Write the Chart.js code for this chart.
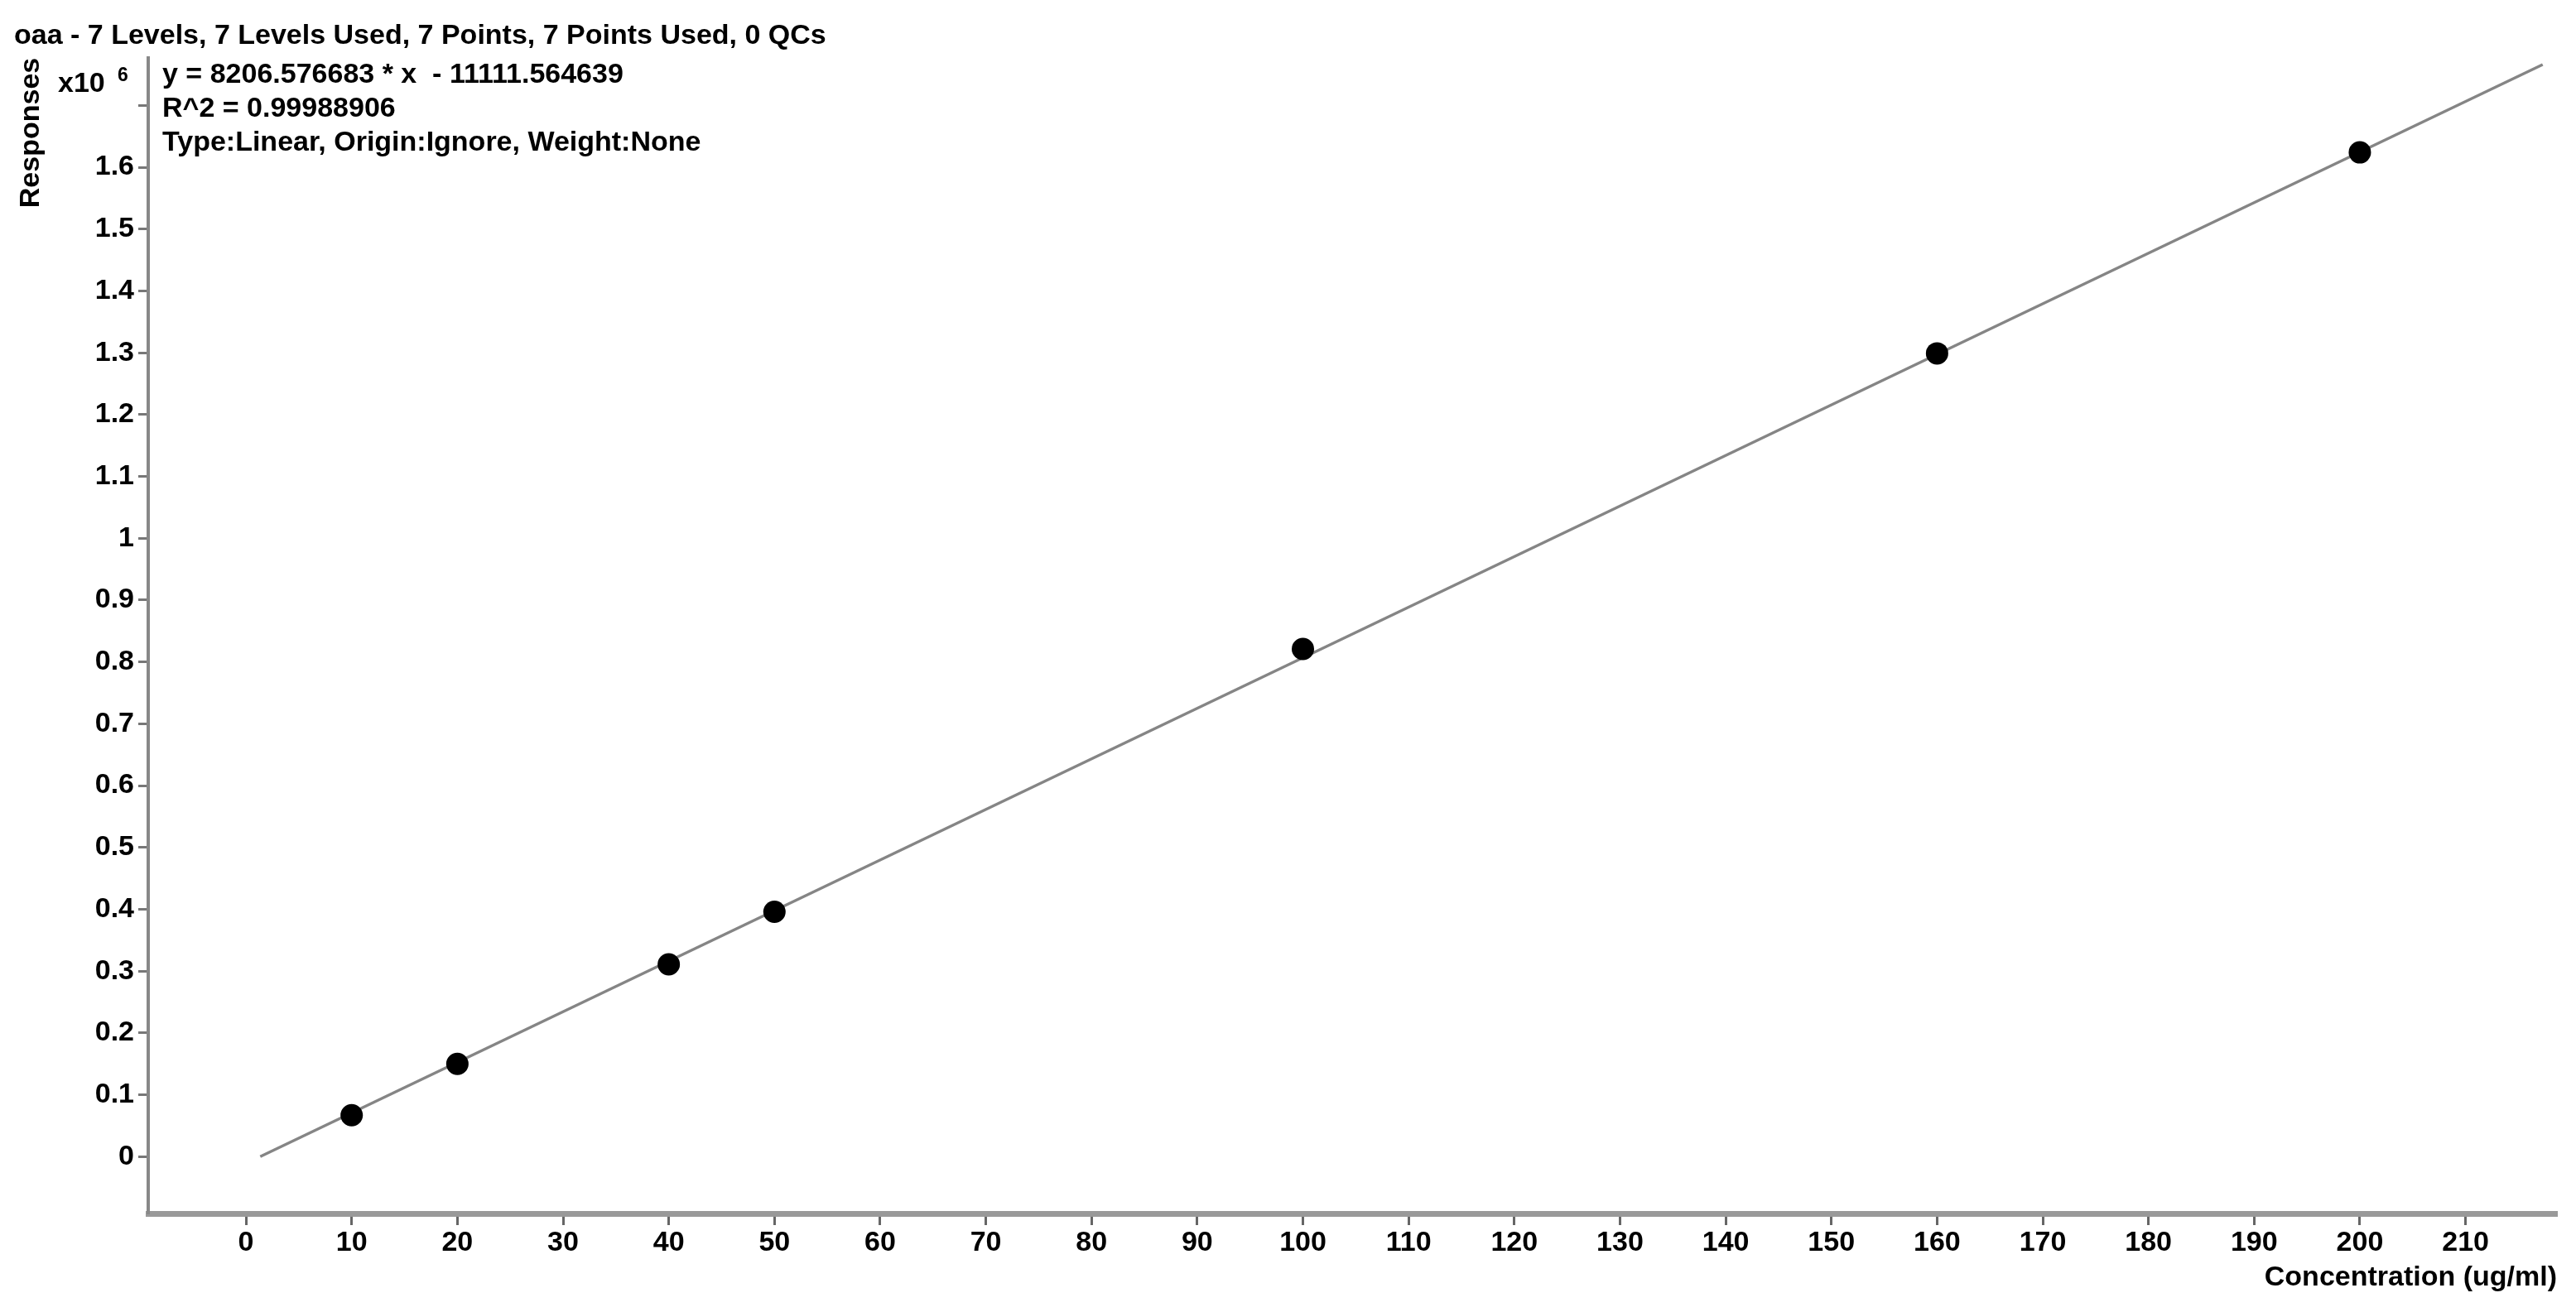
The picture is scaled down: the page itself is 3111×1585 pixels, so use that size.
<!DOCTYPE html>
<html lang="en">
<head>
<meta charset="UTF-8">
<title>oaa calibration curve</title>
<style>
  html, body { margin: 0; padding: 0; background: #fff; }
  #wrap { width: 3111px; height: 1585px; }
</style>
</head>
<body>
<div id="wrap"><canvas id="calChart"></canvas></div>

<script src="https://cdn.jsdelivr.net/npm/chart.js@4.4.1/dist/chart.umd.min.js"></script>
<script>
// calibration levels (ug/ml) and responses (x10^6)
const concentrations = [10, 20, 40, 50, 100, 160, 200];
const responses = [0.067, 0.150, 0.311, 0.396, 0.821, 1.299, 1.624];

// ends of the fitted line as drawn
const fitX = [1.35, 217.3];
const fitY = [0.0, 1.766];

const xTicks = [0, 10, 20, 30, 40, 50, 60, 70, 80, 90, 100, 110, 120, 130, 140, 150, 160, 170, 180, 190, 200, 210];
const yTicks = [0, 0.1, 0.2, 0.3, 0.4, 0.5, 0.6, 0.7, 0.8, 0.9, 1, 1.1, 1.2, 1.3, 1.4, 1.5, 1.6, 1.7];
const yTickLabels = ['0', '0.1', '0.2', '0.3', '0.4', '0.5', '0.6', '0.7', '0.8', '0.9', '1', '1.1', '1.2', '1.3', '1.4', '1.5', '1.6', ''];

const chartTitle = 'oaa - 7 Levels, 7 Levels Used, 7 Points, 7 Points Used, 0 QCs';
const fitText = [
    'y = 8206.576683 * x  - 11111.564639',
    'R^2 = 0.99988906',
    'Type:Linear, Origin:Ignore, Weight:None'
];

const FONT = '"Liberation Sans", Arial, sans-serif';
Chart.defaults.font.family = FONT;
Chart.defaults.font.weight = 'bold';
Chart.defaults.color = '#000';

// equation block and the x10^6 multiplier
const fitLabel = {
    id: 'fitLabel',
    afterDraw(chart) {
        const ctx = chart.ctx;
        const area = chart.chartArea;
        ctx.save();
        ctx.fillStyle = '#000';
        ctx.textBaseline = 'alphabetic';
        ctx.textAlign = 'left';
        ctx.font = 'bold 34px ' + FONT;
        fitText.forEach((t, i) => ctx.fillText(t, area.left + 17, area.top + 30 + i * 41));
        ctx.fillText('x10', area.left - 109, area.top + 41);
        ctx.font = 'bold 23px ' + FONT;
        ctx.fillText('6', area.left - 37, area.top + 28);
        ctx.restore();
    }
};

const pointData = concentrations.map((c, i) => ({x: c, y: responses[i]}));
const lineData = fitX.map((c, i) => ({x: c, y: fitY[i]}));

new Chart(document.getElementById('calChart'), {
    type: 'scatter',
    data: {
        datasets: [
            {
                label: 'Levels',
                data: pointData,
                backgroundColor: '#000',
                borderWidth: 0,
                pointRadius: 13.5,
                pointHoverRadius: 13.5
            },
            {
                label: 'Fit',
                data: lineData,
                showLine: true,
                borderColor: '#858585',
                borderWidth: 3.5,
                pointRadius: 0
            }
        ]
    },
    options: {
        responsive: true,
        maintainAspectRatio: false,
        animation: false,
        layout: { padding: { left: 17, right: 23, top: 0, bottom: 0 } },
        plugins: {
            legend: { display: false },
            tooltip: { enabled: false },
            title: {
                display: true,
                text: chartTitle,
                align: 'start',
                color: '#000',
                font: { size: 34, weight: 'bold' },
                padding: { top: 23, bottom: 6 }
            }
        },
        scales: {
            x: {
                type: 'linear',
                min: -9.25,
                max: 218.65,
                afterBuildTicks: s => { s.ticks = xTicks.map(v => ({value: v})); },
                afterFit: s => { s.height = 119; },
                ticks: {
                    font: { size: 34 },
                    color: '#000',
                    padding: 1,
                    maxRotation: 0,
                    autoSkip: false
                },
                grid: {
                    drawOnChartArea: false,
                    drawTicks: true,
                    tickLength: 14,
                    tickWidth: 3,
                    tickColor: '#666'
                },
                border: { display: true, color: '#999', width: 7 },
                title: {
                    display: true,
                    text: 'Concentration (ug/ml)',
                    align: 'end',
                    color: '#000',
                    font: { size: 34 },
                    padding: { top: 0, bottom: 21 }
                }
            },
            y: {
                type: 'linear',
                min: -0.092,
                max: 1.777,
                afterBuildTicks: s => { s.ticks = yTicks.map(v => ({value: v})); },
                afterFit: s => { s.width = 162; },
                ticks: {
                    font: { size: 34 },
                    color: '#000',
                    padding: 5,
                    autoSkip: false,
                    callback: (v, i) => yTickLabels[i]
                },
                grid: {
                    drawOnChartArea: false,
                    drawTicks: true,
                    tickLength: 12,
                    tickWidth: 3,
                    tickColor: '#777'
                },
                border: { display: true, color: '#888', width: 4 },
                title: {
                    display: true,
                    text: 'Responses',
                    align: 'end',
                    color: '#000',
                    font: { size: 34 },
                    padding: { top: 0, bottom: 0 }
                }
            }
        }
    },
    plugins: [fitLabel]
});
</script>
</body>
</html>
